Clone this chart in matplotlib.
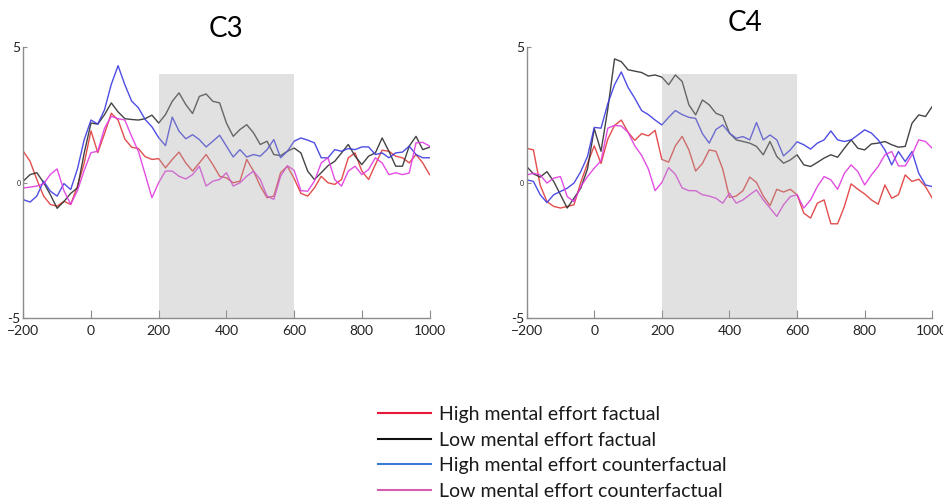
import numpy as np
import matplotlib.pyplot as plt
from matplotlib.lines import Line2D

plt.rcParams['font.family'] = ['Lato', 'DejaVu Sans']

# time axis (ms), one sample every 20 ms
t = np.arange(-200, 1001, 20)

# C3 electrode
c3_high_fact = [1.15, 0.78, 0.11, -0.5, -0.81, -0.87, -0.69, -0.81, -0.13, 0.72,
                1.9, 1.1, 1.8, 2.55, 2.3, 1.6, 1.3, 1.25, 0.95, 0.85,
                0.88, 0.54, 0.85, 1.12, 0.72, 0.42, 0.72, 1.03, 0.66, 0.23,
                0.17, -0.01, 0.05, 0.85, 0.42, -0.13, -0.56, -0.5, 0.36, 0.6,
                0.15, -0.4, -0.5, -0.2, 0.23, -0.01, -0.07, 0.11, 0.91, 1.09,
                0.42, 0.11, 0.66, 1.19, 1.15, 0.97, 0.91, 0.72, 1.03, 0.72, 0.29]
c3_low_fact = [0.05, 0.29, 0.36, 0.0, -0.45, -0.95, -0.7, -0.4, -0.2, 1.09,
               2.19, 2.15, 2.5, 2.93, 2.6, 2.35, 2.32, 2.3, 2.35, 2.48,
               2.19, 2.5, 2.99, 3.3, 2.87, 2.54, 3.17, 3.26, 2.99, 2.93,
               2.19, 1.7, 1.95, 2.13, 1.83, 1.4, 1.52, 1.03, 0.99, 1.15,
               1.27, 1.09, 0.42, 0.11, 0.36, 0.62, 0.78, 1.09, 1.4, 0.97,
               0.66, 0.97, 1.09, 1.64, 1.15, 0.6, 0.6, 1.34, 1.7, 1.21, 1.3]
c3_high_cf = [-0.63, -0.72, -0.5, 0.05, -0.32, -0.5, -0.04, -0.26, 0.5, 1.58,
              2.3, 2.15, 2.68, 3.62, 4.3, 3.6, 3.0, 2.75, 2.32, 2.05,
              1.65, 1.36, 2.41, 1.89, 1.61, 1.76, 1.58, 1.31, 1.52, 1.74,
              1.34, 0.94, 1.21, 0.94, 1.03, 0.97, 1.21, 1.58, 0.91, 1.15,
              1.52, 1.64, 1.56, 1.46, 0.91, 0.91, 1.21, 1.15, 1.25, 1.21,
              1.31, 1.31, 1.03, 1.09, 0.91, 1.09, 1.12, 1.34, 1.03, 0.91, 0.91]
c3_low_cf = [-0.2, -0.17, -0.13, -0.05, 0.3, 0.5, -0.3, -0.8, -0.3, 0.45,
             1.1, 1.15, 2.0, 2.44, 2.35, 2.3, 1.7, 1.15, 0.3, -0.56,
             0.0, 0.42, 0.42, 0.23, 0.13, 0.29, 0.6, -0.13, 0.05, 0.11,
             0.36, -0.13, -0.01, 0.23, 0.42, 0.11, -0.5, -0.62, 0.23, 0.62,
             0.45, -0.3, -0.32, 0.05, 0.72, 0.91, 0.11, -0.13, 0.42, 0.6,
             0.29, 0.48, 0.91, 0.72, 0.29, 0.36, 0.29, 0.35, 1.46, 1.48, 1.34]

# C4 electrode
c4_high_fact = [1.26, 1.2, -0.1, -0.7, -0.88, -0.94, -0.88, -0.82, 0.0, 0.7,
                1.35, 0.7, 1.6, 2.1, 2.3, 1.85, 1.55, 1.8, 1.72, 1.92,
                0.85, 0.75, 1.35, 1.7, 1.2, 0.42, 0.7, 1.2, 1.15, 0.5,
                -0.55, -0.5, -0.3, 0.2, 0.0, -0.5, -0.85, -0.25, -0.35, -0.25,
                -0.45, -1.13, -1.31, -0.76, -0.64, -1.52, -1.52, -0.88, -0.05, -0.25,
                -0.42, -0.64, -0.8, -0.09, -0.58, -0.45, 0.28, 0.04, 0.12, -0.15, -0.58]
c4_low_fact = [0.59, 0.32, 0.2, 0.4, 0.04, -0.45, -0.94, -0.58, -0.21, 0.5,
               1.98, 1.15, 2.7, 4.55, 4.45, 4.15, 4.1, 4.05, 3.92, 3.96,
               3.88, 3.6, 3.96, 3.72, 2.86, 2.49, 3.04, 2.86, 2.55, 2.45,
               1.82, 1.57, 1.51, 1.45, 1.33, 1.02, 1.51, 0.96, 0.71, 0.83,
               1.02, 0.65, 0.59, 0.74, 0.9, 1.02, 0.93, 1.26, 1.57, 1.26,
               1.2, 1.42, 1.45, 1.51, 1.39, 1.3, 1.33, 2.18, 2.49, 2.43, 2.8]
c4_high_cf = [0.1, 0.04, -0.45, -0.74, -0.45, -0.33, -0.21, -0.02, 0.4, 0.96,
              2.03, 2.0, 2.9, 3.6, 4.07, 3.5, 3.1, 2.65, 2.5, 2.3,
              2.12, 2.4, 2.65, 2.5, 2.4, 2.36, 1.8, 1.45, 1.95, 2.12,
              1.82, 1.63, 1.69, 1.57, 2.21, 1.57, 1.75, 1.57, 0.98, 1.2,
              1.5, 1.39, 1.23, 1.45, 1.57, 1.9, 1.57, 1.51, 1.57, 1.75,
              1.94, 1.82, 1.57, 1.2, 0.65, 1.14, 0.77, 1.14, 0.34, -0.09, -0.15]
c4_low_cf = [0.28, 0.34, 0.28, -0.02, 0.16, 0.22, -0.52, -0.7, -0.15, 0.22,
             0.53, 0.8, 2.0, 2.1, 2.08, 1.85, 1.35, 1.0, 0.5, -0.3,
             0.0, 0.55, 0.3, -0.2, -0.3, -0.3, -0.45, -0.5, -0.58, -0.76,
             -0.39, -0.76, -0.64, -0.45, -0.27, -0.64, -0.94, -1.25, -0.82, -0.52,
             -0.45, -0.94, -0.64, -0.15, 0.22, 0.1, -0.25, 0.34, 0.65, 0.4,
             -0.09, 0.28, 0.59, 1.02, 1.14, 0.61, 0.61, 1.02, 1.57, 1.51, 1.26]

labels = ['High mental effort factual', 'Low mental effort factual',
          'High mental effort counterfactual', 'Low mental effort counterfactual']
line_colors = ['#e03a3a', '#303030', '#3a3ae0', '#e03ae0']
legend_colors = ['#e8173a', '#111111', '#3a7bd5', '#d45fb0']

fig = plt.figure(figsize=(9.43, 4.99), dpi=100)
ax1 = fig.add_axes([0.0247, 0.3621, 0.4308, 0.5443])
ax2 = fig.add_axes([0.5585, 0.3621, 0.4301, 0.5443])

panels = [
    (ax1, [c3_high_fact, c3_low_fact, c3_high_cf, c3_low_cf]),
    (ax2, [c4_high_fact, c4_low_fact, c4_high_cf, c4_low_cf]),
]

for ax, series in panels:
    for y, c in zip(series, line_colors):
        ax.plot(t, y, color=c, lw=1.0, alpha=0.9, solid_joinstyle='round')
    # grey analysis window laid over the traces (they look faded inside it)
    ax.axvspan(200, 600, ymin=0, ymax=0.9, color='#a8a8a8', alpha=0.34,
               lw=0, zorder=3)
    ax.set_xlim(-200, 1000)
    ax.set_ylim(-5, 5)
    for s in ['top', 'right']:
        ax.spines[s].set_visible(False)
    for s in ['left', 'bottom']:
        ax.spines[s].set_color('#8c8c8c')
        ax.spines[s].set_linewidth(1.0)
    ax.set_xticks([-200, 0, 200, 400, 600, 800, 1000])
    ax.set_yticks([-5, 0, 5])
    ax.set_yticklabels(['-5', '0', '5'])
    ax.tick_params(axis='x', direction='in', length=6, color='#8c8c8c',
                   labelsize=10, labelcolor='#222222', pad=5)
    ax.tick_params(axis='y', direction='in', length=3, color='#8c8c8c',
                   labelsize=10, labelcolor='#222222', pad=2)
    ax.get_yticklabels()[1].set_fontsize(5)

fig.text(226 / 943, 1 - 29 / 499, 'C3', ha='center', va='center', fontsize=20)
fig.text(745 / 943, 1 - 23 / 499, 'C4', ha='center', va='center', fontsize=20)

handles = [Line2D([], [], color=c, lw=1.5) for c in legend_colors]
fig.legend(handles, labels, loc='upper left',
           bbox_to_anchor=(378 / 943, 1 - 406 / 499), frameon=False,
           fontsize=14, handlelength=2.7, handletextpad=0.42,
           labelspacing=0.44, borderpad=0, borderaxespad=0,
           labelcolor='#1a1a1a')

fig.savefig('out.png', dpi=100)
